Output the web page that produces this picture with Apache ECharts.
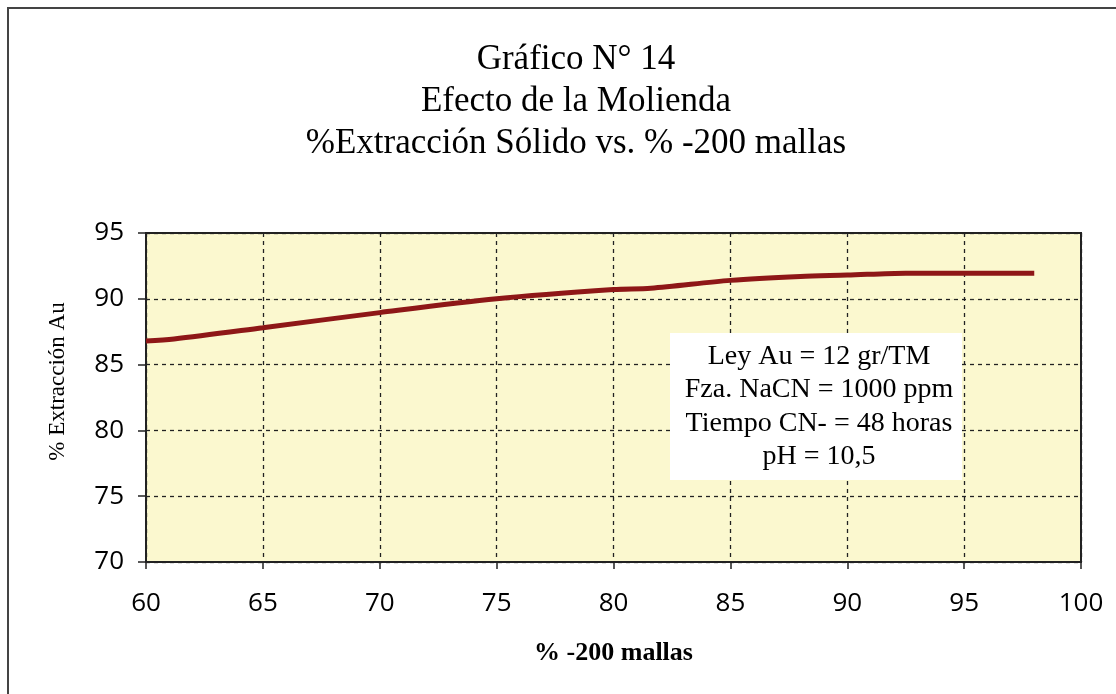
<!DOCTYPE html>
<html><head><meta charset="utf-8">
<script src="https://cdn.jsdelivr.net/npm/echarts@6/dist/echarts.min.js"></script>
<style>html,body{margin:0;padding:0;background:#fff}#c{width:1116px;height:694px}</style>
</head><body><div id="c"></div>
<script>
const titleLines = ['Gráfico N° 14', 'Efecto de la Molienda', '%Extracción Sólido vs. % -200 mallas'];
const xName = '% -200 mallas';
const yName = '% Extracción Au';
const mallas = [60, 61.2, 65, 70, 75, 80, 81.6, 85, 88, 90, 92.5, 95, 98];
const extraccion = [86.8, 86.95, 87.8, 88.95, 90.0, 90.7, 90.8, 91.4, 91.7, 91.8, 91.95, 91.95, 91.95];
const noteLines = ['Ley Au = 12 gr/TM', 'Fza. NaCN = 1000 ppm', 'Tiempo CN- = 48 horas', 'pH = 10,5'];

const serif = '"Liberation Serif", "DejaVu Serif", serif';
const sans = '"Open Sans", "Liberation Sans", sans-serif';
const chart = echarts.init(document.getElementById('c'));
chart.setOption({
  backgroundColor: '#fff',
  animation: false,
  title: {
    text: titleLines.join('\n'), left: 571, textAlign: 'center', top: 34,
    textStyle: {fontFamily: serif, fontSize: 35, fontWeight: 'normal', color: '#000', lineHeight: 42}
  },
  grid: {left: 146, right: 35, top: 233, bottom: 132, show: true,
    backgroundColor: '#fbf8cf', borderColor: '#222', borderWidth: 2},
  xAxis: {
    type: 'value', min: 60, max: 100, interval: 5,
    name: xName, nameLocation: 'middle', nameGap: 78,
    nameTextStyle: {fontFamily: serif, fontSize: 26, color: '#000', fontWeight: 'bold'},
    axisLine: {show: true, onZero: false, lineStyle: {color: '#222', width: 2}},
    axisTick: {show: true, inside: false, length: 7, lineStyle: {color: '#222', width: 1.5}},
    axisLabel: {fontFamily: sans, fontSize: 26, color: '#000', margin: 29},
    splitLine: {show: true, lineStyle: {color: '#222', type: [4, 4], width: 1.3}}
  },
  yAxis: {
    type: 'value', min: 70, max: 95, interval: 5,
    name: yName, nameLocation: 'middle', nameGap: 77, nameRotate: 90,
    nameTextStyle: {fontFamily: serif, fontSize: 23, color: '#000', padding: [0, 0, 0, 32]},
    axisLine: {show: true, onZero: false, lineStyle: {color: '#222', width: 2}},
    axisTick: {show: true, length: 8, lineStyle: {color: '#222', width: 1.5}},
    axisLabel: {fontFamily: sans, fontSize: 26, color: '#000', margin: 22},
    splitLine: {show: true, lineStyle: {color: '#222', type: [4, 4], width: 1.3}}
  },
  series: [{
    type: 'line', data: mallas.map((x, i) => [x, extraccion[i]]),
    smooth: 0.3, showSymbol: false, lineStyle: {color: '#8e1717', width: 5}
  }],
  graphic: [
    {type: 'rect', shape: {x: 8, y: 8, width: 1130, height: 720}, style: {fill: 'none', stroke: '#444', lineWidth: 2}, silent: true},
    {type: 'rect', shape: {x: 670, y: 333, width: 292, height: 147}, style: {fill: '#fff'}, z: 10},
    {type: 'text', x: 819, y: 340, z: 11, style: {text: noteLines.join('\n'), fontFamily: serif, fontSize: 28, lineHeight: 33.3, fill: '#000', align: 'center', verticalAlign: 'top'}}
  ]
});
</script></body></html>
